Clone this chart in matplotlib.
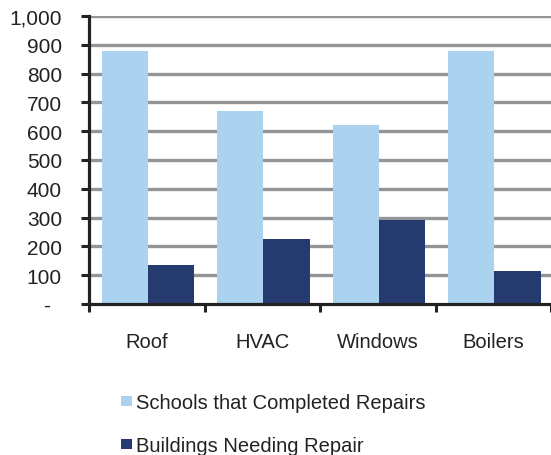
import matplotlib
matplotlib.use("Agg")
import matplotlib.pyplot as plt
import numpy as np

categories = ["Roof", "HVAC", "Windows", "Boilers"]
completed = [880, 670, 620, 880]
needing = [137, 227, 290, 116]
yticks = [0, 100, 200, 300, 400, 500, 600, 700, 800, 900, 1000]
ytick_labels = ["-  ", "100", "200", "300", "400", "500", "600", "700", "800", "900", "1,000"]
series_names = ["Schools that Completed Repairs", "Buildings Needing Repair"]

plt.rcParams['font.family'] = ['Liberation Sans', 'DejaVu Sans']

fig = plt.figure(figsize=(5.51, 4.56), dpi=100)
ax = fig.add_axes([89/551, (456-305)/456, (551-89)/551, (305-17)/456])

x = np.arange(len(categories))
w = 0.4
light = "#ABD3EF"
dark = "#253A6E"
txt = "#222222"
b1 = ax.bar(x - 0.19, completed, width=w, color=light, zorder=3, label=series_names[0])
b2 = ax.bar(x + 0.21, needing, width=w, color=dark, zorder=3, label=series_names[1])

ax.set_xlim(-0.5, 3.5)
ax.set_ylim(0, 1000)
ax.set_yticks(yticks)
ax.set_yticklabels(ytick_labels, fontsize=15, color=txt)
for y in yticks[1:]:
    ax.axhline(y, color="#939598", lw=2.4, zorder=1)

ax.set_xticks([-0.5, 0.5, 1.5, 2.5, 3.5])
ax.set_xticklabels([])
ax.set_xticks(x, minor=True)
ax.set_xticklabels(categories, minor=True, fontsize=14.5, color=txt)
ax.tick_params(axis='x', which='minor', length=0, pad=20)
ax.tick_params(axis='x', which='major', direction='out', length=6, width=2.2, color=txt)
ax.tick_params(axis='y', direction='out', length=5.5, width=2.2, color=txt, pad=14)

for s in ["top", "right"]:
    ax.spines[s].set_visible(False)
ax.spines["left"].set_linewidth(2.3)
ax.spines["left"].set_color(txt)
ax.spines["bottom"].set_linewidth(2.3)
ax.spines["bottom"].set_color(txt)
ax.spines["bottom"].set_zorder(4)

leg = fig.legend(handles=[b1, b2], labels=series_names, loc="upper left",
                 bbox_to_anchor=(121/551, 1 - 394/456), frameon=False, borderpad=0,
                 borderaxespad=0,
                 fontsize=14.5, handlelength=0.55, handleheight=0.4,
                 handletextpad=0.2, labelspacing=1.2)
for t in leg.get_texts():
    t.set_color(txt)

fig.savefig("out.png", dpi=100)
